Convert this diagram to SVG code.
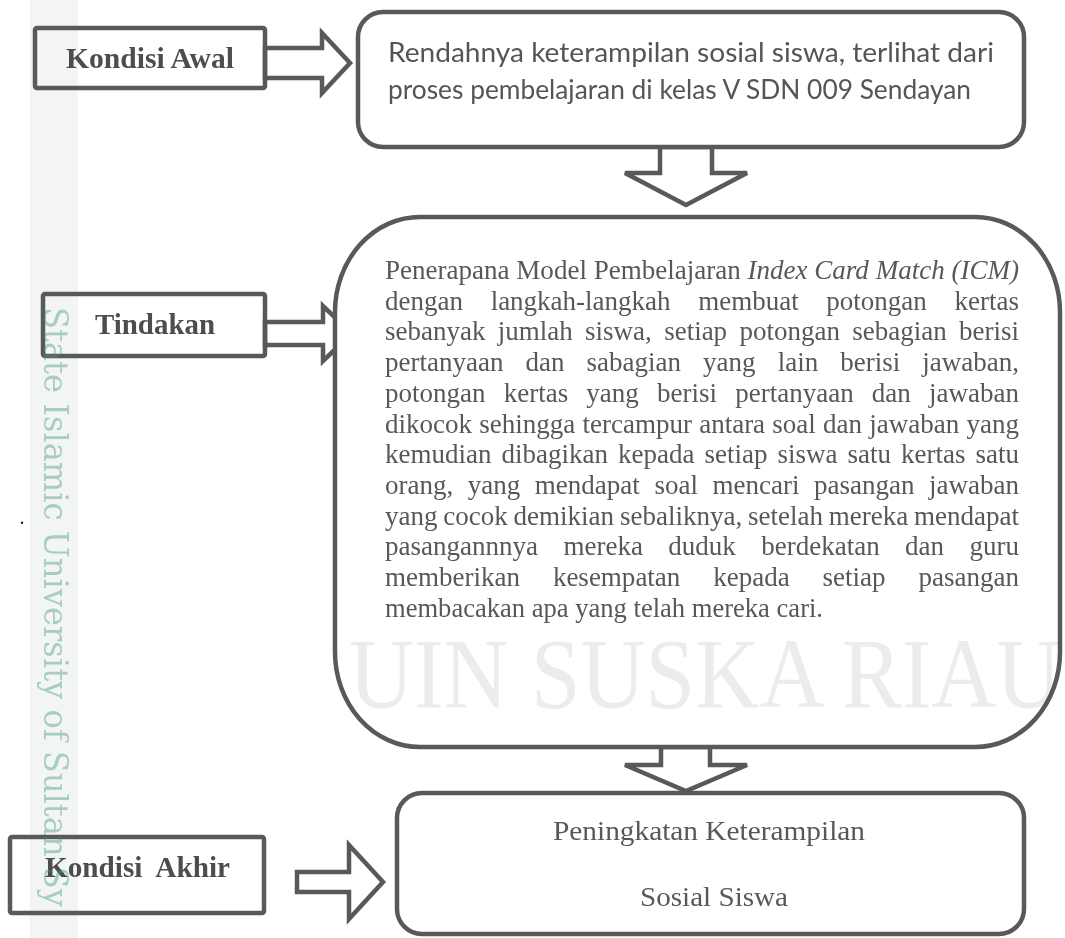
<svg xmlns="http://www.w3.org/2000/svg" width="1065" height="938" viewBox="0 0 1065 938">
<style>
.box{fill:none;stroke:#595959;stroke-width:4.5}
.wbox{fill:#fff;stroke:#595959;stroke-width:4.5}
.arr{fill:#fff;stroke:#595959;stroke-width:4.5;stroke-linejoin:miter}
.lbl{font-family:"Liberation Serif","Times New Roman",serif;font-weight:bold;font-size:29px;fill:#4d4d4d}
.body{font-family:"Liberation Serif","Times New Roman",serif;font-size:28px;fill:#585858}
.cal{font-family:Lato,"Open Sans",sans-serif;font-size:27px;fill:#555}
.res{font-family:"Liberation Serif","Times New Roman",serif;font-size:28px;fill:#585858}
.wm{mix-blend-mode:multiply}
</style>
<rect x="0" y="0" width="1065" height="938" fill="#fff"/>
<rect x="30" y="0" width="48" height="938" fill="#f3f5f5"/>

<g id="connectors">
<polygon class="arr" points="265,48 322,48 322,33 350,63 322,93 322,78 265,78"/>
<polygon class="arr" points="265,322 323,322 323,306 352,333.5 323,361 323,345 265,345"/>
<polygon class="arr" points="660,147 660,173 625,173 686,205 747,173 712,173 712,147"/>
<polygon class="arr" points="661,747 661,765 625,765 686,791 747,765 710,765 710,747"/>
<polygon class="arr" points="297,872 349,872 349,845 383,882 349,919 349,892 297,892"/>
</g>

<g id="kondisi-awal">
<rect class="box" x="35" y="28" width="230" height="60" rx="2"/>
<text class="lbl" x="66" y="68" textLength="168" lengthAdjust="spacingAndGlyphs">Kondisi Awal</text>
</g>

<g id="masalah">
<rect class="wbox" x="358" y="12" width="666" height="135" rx="25"/>
<text class="cal" x="388" y="62" textLength="606" lengthAdjust="spacingAndGlyphs">Rendahnya keterampilan sosial siswa, terlihat dari</text>
<text class="cal" x="388" y="99" textLength="583" lengthAdjust="spacingAndGlyphs">proses pembelajaran di kelas V SDN 009 Sendayan</text>
</g>

<g id="tindakan">
<rect class="box" x="43" y="294" width="222" height="62" rx="2"/>
<text class="lbl" x="95" y="334" textLength="120" lengthAdjust="spacingAndGlyphs">Tindakan</text>
</g>

<g id="penerapan">
<rect class="wbox" x="335" y="217" width="725" height="530" rx="85" ry="95"/>
<text class="body" x="385" y="279" textLength="634" lengthAdjust="spacingAndGlyphs">Penerapana Model Pembelajaran <tspan font-style="italic">Index Card Match (ICM)</tspan></text>
<text class="body" x="385" y="309.7" word-spacing="21.7" textLength="634" lengthAdjust="spacingAndGlyphs">dengan langkah-langkah membuat potongan kertas</text>
<text class="body" x="385" y="340.4" word-spacing="5.8" textLength="634" lengthAdjust="spacingAndGlyphs">sebanyak jumlah siswa, setiap potongan sebagian berisi</text>
<text class="body" x="385" y="371.1" word-spacing="15.9" textLength="634" lengthAdjust="spacingAndGlyphs">pertanyaan dan sabagian yang lain berisi jawaban,</text>
<text class="body" x="385" y="401.8" word-spacing="11.9" textLength="634" lengthAdjust="spacingAndGlyphs">potongan kertas yang berisi pertanyaan dan jawaban</text>
<text class="body" x="385" y="432.5" word-spacing="0.5" textLength="634" lengthAdjust="spacingAndGlyphs">dikocok sehingga tercampur antara soal dan jawaban yang</text>
<text class="body" x="385" y="463.2" word-spacing="3.4" textLength="634" lengthAdjust="spacingAndGlyphs">kemudian dibagikan kepada setiap siswa satu kertas satu</text>
<text class="body" x="385" y="493.9" word-spacing="8.1" textLength="634" lengthAdjust="spacingAndGlyphs">orang, yang mendapat soal mencari pasangan jawaban</text>
<text class="body" x="385" y="524.6" word-spacing="-1" textLength="634" lengthAdjust="spacingAndGlyphs">yang cocok demikian sebaliknya, setelah mereka mendapat</text>
<text class="body" x="385" y="555.3" word-spacing="19.3" textLength="634" lengthAdjust="spacingAndGlyphs">pasangannnya mereka duduk berdekatan dan guru</text>
<text class="body" x="385" y="586" word-spacing="27.1" textLength="634" lengthAdjust="spacingAndGlyphs">memberikan kesempatan kepada setiap pasangan</text>
<text class="body" x="385" y="616.7" textLength="438" lengthAdjust="spacingAndGlyphs">membacakan apa yang telah mereka cari.</text>
</g>

<g id="kondisi-akhir">
<rect class="box" x="10" y="837" width="254" height="76" rx="2"/>
<text class="lbl" x="45" y="877" xml:space="preserve" style="white-space:pre" textLength="185" lengthAdjust="spacingAndGlyphs">Kondisi  Akhir</text>
</g>

<g id="hasil">
<rect class="wbox" x="397" y="793" width="627" height="141" rx="25"/>
<text class="res" x="709" y="840" text-anchor="middle" textLength="312" lengthAdjust="spacingAndGlyphs">Peningkatan Keterampilan</text>
<text class="res" x="714" y="906" text-anchor="middle" textLength="148" lengthAdjust="spacingAndGlyphs">Sosial Siswa</text>
</g>

<g id="watermark">
<text class="wm" transform="translate(349,707) scale(1,1.12)" x="0" y="0" font-family="Liberation Serif, serif" font-size="89" fill="#ececec" textLength="712" lengthAdjust="spacingAndGlyphs">UIN SUSKA RIAU</text>
<text transform="translate(44,307) rotate(90) scale(1,1.25)" x="0" y="0" font-family="DejaVu Serif, serif" font-size="27" fill="#3f9a70" opacity="0.42" textLength="600" lengthAdjust="spacingAndGlyphs">State Islamic University of Sultan Sy</text>
</g>
<text x="19.5" y="524" font-family="Liberation Serif, serif" font-size="20" fill="#222">.</text>
</svg>
